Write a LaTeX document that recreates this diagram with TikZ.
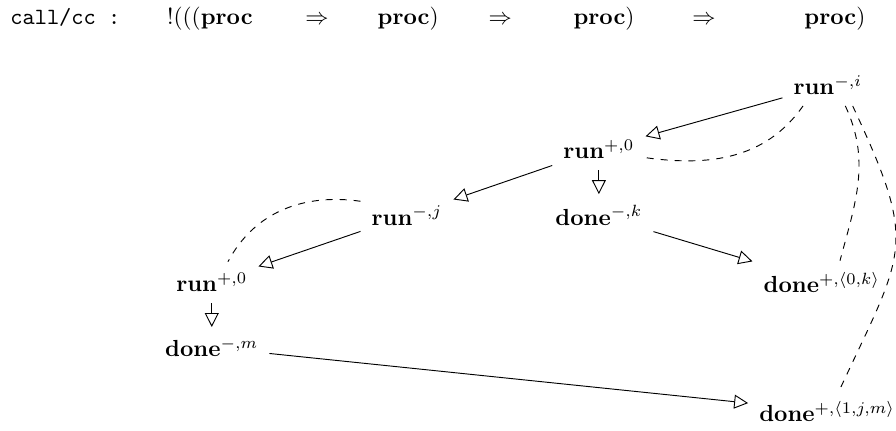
\documentclass[tikz,border=0pt]{standalone}
\usetikzlibrary{arrows.meta}
\begin{document}
\begin{tikzpicture}[
    move/.style={inner sep=4.6pt,anchor=base},
    word/.style={inner sep=0pt,anchor=base west},
    arr/.style={-{Triangle[open,length=6pt,width=6pt]}},
    ptr/.style={dashed}]
    \useasboundingbox(0,0)rectangle(13.54,6.51);
    % the type
    \node[word](cc)at(0.15,6.14){\texttt{call/cc :}};
    \node[word](t1)at(2.52,6.14){$!((($\textbf{proc}};
    \node[inner sep=0pt,anchor=base](i1)at(4.79,6.14){$\Rightarrow$};
    \node[word](t2)at(5.70,6.14){\textbf{proc}$)$};
    \node[inner sep=0pt,anchor=base](i2)at(7.56,6.14){$\Rightarrow$};
    \node[word](t3)at(8.66,6.14){\textbf{proc}$)$};
    \node[inner sep=0pt,anchor=base](i3)at(10.64,6.14){$\Rightarrow$};
    \node[word](t4)at(12.15,6.14){\textbf{proc}$)$};
    % the moves
    \node[move](Ri)at(12.51,5.08){\textbf{run}$^{-,i}$};
    \node[move](R0)at(9.05,4.11){\textbf{run}$^{+,0}$};
    \node[move](Dk)at(9.05,3.11){\textbf{done}$^{-,k}$};
    \node[move](Rj)at(6.15,3.11){\textbf{run}$^{-,j}$};
    \node[move](L0)at(3.20,2.10){\textbf{run}$^{+,0}$};
    \node[move](Dm)at(3.20,1.12){\textbf{done}$^{-,m}$};
    \node[move](D0k)at(12.42,2.09){\textbf{done}$^{+,\langle 0,k\rangle}$};
    \node[move](D1jm)at(12.50,0.14){\textbf{done}$^{+,\langle 1,j,m\rangle}$};
    % order
    \draw[arr](Ri)--(R0);
    \draw[arr](R0)--(Rj);
    \draw[arr](R0)--(Dk);
    \draw[arr](Rj)--(L0);
    \draw[arr](L0)--(Dm);
    \draw[arr](Dk)--(D0k);
    \draw[arr](Dm)--(D1jm);
    % pointers
    \draw[ptr](Ri.-140)to[out=-125,in=-8](R0.-10);
    \draw[ptr](Rj.163)to[out=172,in=62](L0.52);
    \draw[ptr](Ri.-50)to[out=-65,in=75](D0k.50);
    \draw[ptr](Ri.-40)to[out=-65,in=65,looseness=1.4](D1jm.60);
\end{tikzpicture}
\end{document}
